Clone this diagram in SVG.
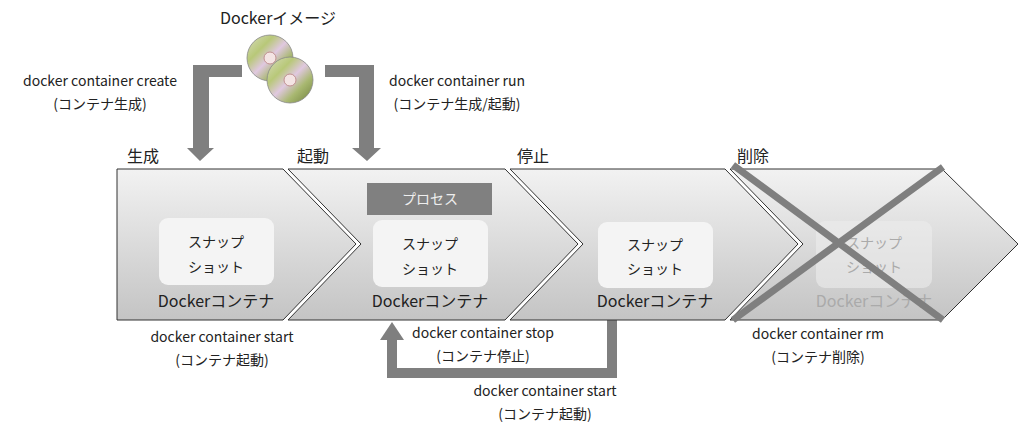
<svg xmlns="http://www.w3.org/2000/svg" width="1024" height="436" viewBox="0 0 1024 436">
<style>
text{font-family:"Noto Sans CJK JP","Liberation Sans",sans-serif;fill:#222;text-anchor:middle}
.s{font-size:14px}.m{font-size:16px}.p{font-size:16px;text-anchor:start}
.chev{fill:url(#g);stroke:#333;stroke-width:1}
.box{fill:#f4f4f4}
.bar{fill:#7f7f7f}
</style>
<defs>
<linearGradient id="g" x1="0" y1="0" x2="0" y2="1"><stop offset="0" stop-color="#f2f2f2"/><stop offset="1" stop-color="#c4c4c4"/></linearGradient>
<linearGradient id="cd" x1="0" y1="0" x2="1" y2="1"><stop offset="0" stop-color="#d8dcc0"/><stop offset="0.3" stop-color="#b8c878"/><stop offset="0.5" stop-color="#e0c8e0"/><stop offset="0.7" stop-color="#a8b870"/><stop offset="1" stop-color="#6e7e3c"/></linearGradient>
</defs>
<text class="m" x="278" y="24">Dockerイメージ</text>
<g id="image">
<circle cx="270" cy="58" r="23" fill="url(#cd)" stroke="#888" stroke-width="0.8"/>
<circle cx="270" cy="58" r="6" fill="#f4e4e4" stroke="#c09090"/>
<circle cx="290" cy="80" r="23" fill="url(#cd)" stroke="#888" stroke-width="0.8"/>
<circle cx="290" cy="80" r="6" fill="#f4e4e4" stroke="#c09090"/>
</g>
<g id="connectors">
<path class="bar" d="M242,65 H193 V148 H187 L200,161 L214,148 H209 V77 H242 Z"/>
<path class="bar" d="M325,65 H374 V148 H381 L367,161 L352,148 H359 V77 H325 Z"/>
<path d="M612,320 V373 H392 V336" fill="none" stroke="#7f7f7f" stroke-width="10"/>
<path class="bar" d="M380,340 L392,322 L404,340 Z"/>
</g>
<g id="stage1">
<path class="chev" d="M117,169 H283 L356,244 L283,320 H117 Z"/>
<rect class="box" x="159" y="218" width="115" height="67" rx="9"/>
<text class="s" x="216" y="247">スナップ</text><text class="s" x="216" y="272">ショット</text>
<text class="m" x="216" y="307">Dockerコンテナ</text>
</g>
<g id="stage2">
<path class="chev" d="M288,169 H505 L578,244 L505,320 H288 L361,244 Z"/>
<rect x="367" y="183" width="125" height="32" fill="#808080"/>
<text class="s" x="430" y="204" style="fill:#eee">プロセス</text>
<rect class="box" x="373" y="220" width="115" height="67" rx="9"/>
<text class="s" x="430" y="249">スナップ</text><text class="s" x="430" y="274">ショット</text>
<text class="m" x="430" y="307">Dockerコンテナ</text>
</g>
<g id="stage3">
<path class="chev" d="M510,169 H725 L798,244 L725,320 H510 L583,244 Z"/>
<rect class="box" x="598" y="222" width="115" height="66" rx="9"/>
<text class="s" x="655" y="250">スナップ</text><text class="s" x="655" y="274">ショット</text>
<text class="m" x="655" y="307">Dockerコンテナ</text>
</g>
<g id="stage4">
<path class="chev" d="M730,169 H942 L1018,244 L942,320 H730 L803,244 Z"/>
<rect x="816" y="221" width="116" height="67" rx="9" fill="#ececec" opacity="0.6"/>
<text class="s" x="874" y="248" style="fill:#aaa">スナップ</text><text class="s" x="874" y="272" style="fill:#aaa">ショット</text>
<text class="m" x="874" y="307" style="fill:#aaa">Dockerコンテナ</text>
<path d="M733,165 L943,320 M733,320 L943,167" stroke="#7f7f7f" stroke-width="7"/>
</g>
<text class="p" x="127" y="162">生成</text>
<text class="p" x="297" y="162">起動</text>
<text class="p" x="517" y="162">停止</text>
<text class="p" x="737" y="162">削除</text>
<text class="s" x="100" y="86">docker container create</text>
<text class="s" x="100" y="109">(コンテナ生成)</text>
<text class="s" x="457" y="86">docker container run</text>
<text class="s" x="457" y="109">(コンテナ生成/起動)</text>
<text class="s" x="222" y="342">docker container start</text>
<text class="s" x="222" y="365">(コンテナ起動)</text>
<text class="s" x="483" y="338">docker container stop</text>
<text class="s" x="483" y="361">(コンテナ停止)</text>
<text class="s" x="545" y="396">docker container start</text>
<text class="s" x="545" y="419">(コンテナ起動)</text>
<text class="s" x="818" y="339">docker container rm</text>
<text class="s" x="818" y="362">(コンテナ削除)</text>
</svg>
